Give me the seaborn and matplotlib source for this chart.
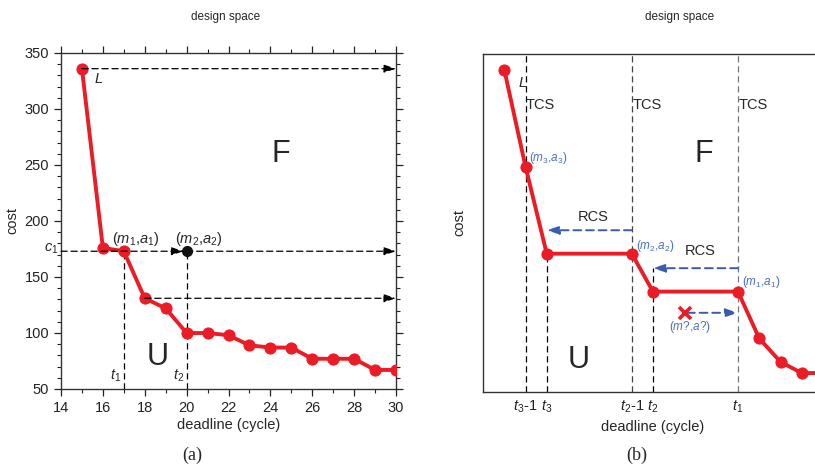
import matplotlib
matplotlib.use("Agg")
import matplotlib.pyplot as plt
import numpy as np
import pandas as pd
import seaborn as sns
from matplotlib.ticker import MultipleLocator

sns.set_theme(style="ticks")
plt.rcParams["font.family"] = ["Liberation Sans", "DejaVu Sans"]
plt.rcParams.update({
    "mathtext.fontset": "custom",
    "mathtext.rm": "Liberation Sans",
    "mathtext.it": "Liberation Sans:italic",
    "mathtext.bf": "Liberation Sans:bold",
})

CRVENA = "#eb1c26"
PLAVA = "#3a5bb0"
PLAVI_TEKST = "#4a6cc4"

# (a) krivulja troška po roku
rok_a = [15, 16, 17, 18, 19, 20, 21, 22, 23, 24, 25, 26, 27, 28, 29, 30]
trosak_a = [336, 176, 173, 131, 122, 100, 100, 98, 89, 87, 87, 77, 77, 77, 67, 67]
m2_tocka = (20, 173)

# (b) shematski prikaz (relativne jedinice)
rok_b = [0, 1, 2, 6, 7, 11, 12, 13, 14, 15]
trosak_b = [336, 249, 171, 171, 137, 137, 95, 74, 64, 64]
oznake_b = [1, 2, 6, 7, 11]
tekst_oznaka_b = ["$t_3$-1", "$t_3$", "$t_2$-1", "$t_2$", "$t_1$"]

fig = plt.figure(figsize=(8.15, 4.67), dpi=100)
ax1 = fig.add_axes([61 / 815, 1 - 389 / 467, 335 / 815, 336 / 467])
ax2 = fig.add_axes([483 / 815, 1 - 392 / 467, 340 / 815, 338 / 467])

crta = dict(color="black", lw=0.9, ls=(0, (5, 3)))
strelica = dict(arrowstyle="-|>,head_length=0.6,head_width=0.2", color="black",
                lw=0.9, ls=(0, (5, 3)), shrinkA=0, shrinkB=0)

# ---------- (a) ----------
df_a = pd.DataFrame({"rok": rok_a, "trosak": trosak_a})
sns.lineplot(data=df_a, x="rok", y="trosak", ax=ax1, color=CRVENA, lw=2.8,
             marker="o", markersize=8, markeredgecolor=CRVENA, zorder=3)
ax1.annotate("", xy=(30, 336), xytext=(15, 336), arrowprops=strelica)
ax1.annotate("", xy=(19.85, 173), xytext=(14, 173), arrowprops=strelica)
ax1.annotate("", xy=(30, 173), xytext=(20, 173), arrowprops=strelica)
ax1.annotate("", xy=(30, 131), xytext=(18, 131), arrowprops=strelica)
ax1.plot([17, 17], [50, 173], **crta)
ax1.plot([20, 20], [50, 173], **crta)
ax1.plot(*m2_tocka, "o", color="#111111", ms=7, zorder=4)

ax1.text(15.6, 323, "$L$", fontsize=10.5)
ax1.text(17.55, 180, "$(m_1$,$a_1)$", fontsize=10.5, ha="center")
ax1.text(20.6, 180, "$(m_2$,$a_2)$", fontsize=10.5, ha="center")
ax1.text(13.55, 175, "$c_1$", fontsize=10.5, ha="center", va="center", clip_on=False)
ax1.text(16.6, 62, "$t_1$", fontsize=10.5, ha="center", va="center")
ax1.text(19.6, 62, "$t_2$", fontsize=10.5, ha="center", va="center")
ax1.text(24.5, 260, "F", fontsize=22, ha="center", va="center")
ax1.text(18.6, 79, "U", fontsize=22, ha="center", va="center")

ax1.set_xlim(14, 30)
ax1.set_ylim(50, 350)
ax1.xaxis.set_major_locator(MultipleLocator(2))
ax1.xaxis.set_minor_locator(MultipleLocator(1))
ax1.yaxis.set_major_locator(MultipleLocator(50))
ax1.yaxis.set_minor_locator(MultipleLocator(10))
ax1.tick_params(which="both", top=True, right=True, direction="out",
                labelsize=10.5, colors="#222222")
ax1.tick_params(which="major", length=5, width=0.9)
ax1.tick_params(which="minor", length=3, width=0.8)
ax1.set_xlabel("deadline (cycle)", fontsize=10.5, labelpad=2)
ax1.set_ylabel("cost", fontsize=10.5, labelpad=4)
for s in ax1.spines.values():
    s.set_linewidth(1.0)
    s.set_color("#333333")

# ---------- (b) ----------
df_b = pd.DataFrame({"rok": rok_b, "trosak": trosak_b})
sns.lineplot(data=df_b, x="rok", y="trosak", ax=ax2, color=CRVENA, lw=2.8,
             marker="o", markersize=8, markeredgecolor=CRVENA, zorder=3)

ax2.plot([1, 1], [47, 350], **crta)
ax2.plot([6, 6], [47, 350], color="#444444", lw=0.9, ls=(0, (5, 3)))
ax2.plot([11, 11], [47, 350], color="#777777", lw=0.9, ls=(0, (5, 3)))
ax2.plot([2, 2], [47, 171], **crta)
ax2.plot([7, 7], [47, 158], **crta)
for x in [1, 6, 11]:
    ax2.text(x + 0.02, 304, "TCS", fontsize=10.5, va="center")

plava_strelica = dict(arrowstyle="-|>,head_length=0.6,head_width=0.2", color=PLAVA,
                      lw=1.4, ls=(0, (4, 2.5)), shrinkA=0, shrinkB=0)
ax2.annotate("", xy=(2, 192), xytext=(6, 192), arrowprops=plava_strelica)
ax2.annotate("", xy=(7, 158), xytext=(11, 158), arrowprops=plava_strelica)
ax2.annotate("", xy=(11, 118), xytext=(8.6, 118), arrowprops=plava_strelica)
ax2.plot(8.5, 118, marker="x", color=CRVENA, ms=9, mew=2.6, zorder=4)
ax2.text(4.2, 204, "RCS", fontsize=10.5, ha="center", va="center")
ax2.text(9.2, 173, "RCS", fontsize=10.5, ha="center", va="center")

ax2.text(0.65, 324, "$L$", fontsize=10.5, va="center")
ax2.text(1.15, 257, "$(m_3$,$a_3)$", fontsize=8.5, color=PLAVI_TEKST, va="center")
ax2.text(6.2, 178, "$(m_2$,$a_2)$", fontsize=8.5, color=PLAVI_TEKST, va="center")
ax2.text(11.2, 146, "$(m_1$,$a_1)$", fontsize=8.5, color=PLAVI_TEKST, va="center")
ax2.text(8.75, 105, "$(m?$,$a?)$", fontsize=8.5, color=PLAVI_TEKST, ha="center", va="center")
ax2.text(9.4, 260, "F", fontsize=22, ha="center", va="center")
ax2.text(3.5, 76, "U", fontsize=22, ha="center", va="center")

ax2.set_xlim(-1, 15)
ax2.set_ylim(47, 350)
ax2.set_xticks(oznake_b)
ax2.set_xticklabels(tekst_oznaka_b)
ax2.set_yticks([])
ax2.tick_params(axis="x", length=0, labelsize=10.5, pad=5, colors="#222222")
ax2.set_xlabel("deadline (cycle)", fontsize=10.5, labelpad=3)
ax2.set_ylabel("cost", fontsize=10.5, labelpad=12)
ax2.spines["right"].set_visible(False)
for s in ax2.spines.values():
    s.set_linewidth(1.0)
    s.set_color("#333333")

# naslovi i potpisi
fig.text(226 / 815, 1 - 17 / 467, "design space", fontsize=8.5, ha="center", va="center")
fig.text(680 / 815, 1 - 17 / 467, "design space", fontsize=8.5, ha="center", va="center")
fig.text(192 / 815, 1 - 455 / 467, "(a)", fontsize=13, ha="center", va="center",
         family=["Liberation Serif", "DejaVu Serif"])
fig.text(637 / 815, 1 - 455 / 467, "(b)", fontsize=13, ha="center", va="center",
         family=["Liberation Serif", "DejaVu Serif"])

fig.savefig("out.png", dpi=100)
